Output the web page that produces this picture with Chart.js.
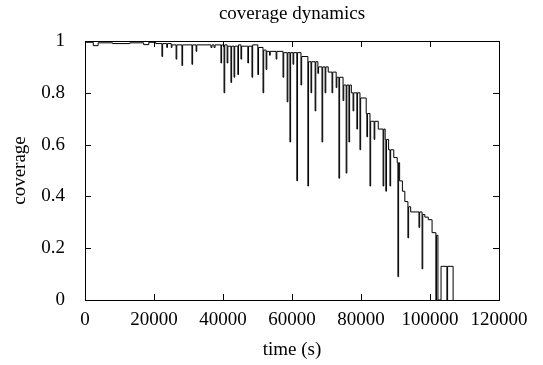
<!DOCTYPE html>
<html>
<head>
<meta charset="utf-8">
<script src="https://cdn.jsdelivr.net/npm/chart.js@4"></script>
<style>
  html, body { margin: 0; padding: 0; background: #fff; }
  #wrap { width: 543px; height: 365px; }
</style>
</head>
<body>
<div id="wrap"><canvas id="cov" width="543" height="365"></canvas></div>
<script>
// time in seconds (x1000), coverage (step line, drops are short outages)
const times = [
    0, 2.4, 3.8, 8.0, 13.0, 17.0, 18.5, 20.5,
    22.3, 22.5, 23.7, 23.9, 25.0, 25.2, 26.4, 26.6, 28.1, 28.3, 31.0, 31.2, 32.2, 32.4,
    36.5, 36.8, 37.4, 37.7, 39.4, 39.6, 40.3, 40.5, 41.2, 41.4, 42.3, 42.5, 43.2, 43.4,
    44.3, 44.5, 45.2, 45.4, 47.2, 47.4, 48.4, 48.6, 50.1, 50.3, 51.6, 51.8, 52.5, 52.7,
    53.5, 53.7, 55.4, 55.6, 57.4, 57.6, 58.6, 58.8, 59.4, 59.6, 60.3, 60.5, 61.4, 61.6,
    62.6, 62.8, 64.6, 64.8, 65.5, 65.7, 66.7, 66.9, 67.5, 67.7, 68.7, 68.9, 69.6, 69.8,
    70.5, 71.6, 71.8, 72.8, 73.0, 73.6, 73.8, 74.8, 75.0, 75.7, 75.9, 76.5, 76.7, 77.2,
    77.7, 77.9, 78.8, 79.0, 79.7, 79.9, 81.5, 81.7, 81.9, 82.6, 82.8, 83.8, 84.0, 85.0,
    86.4, 86.6, 87.0, 87.2, 87.4, 88.0, 88.4, 88.6, 89.5, 90.5, 90.7, 90.9, 91.2, 92.0,
    92.7, 93.6, 93.8, 94.4, 96.8, 97.0, 97.7, 97.9, 98.5, 99.5, 100.6, 101.7, 101.9,
    102.3, 103.2, 104.9, 105.1, 106.7
];
const coverage = [
    0.995, 0.982, 0.993, 0.99, 0.993, 0.986, 0.995, 0.99,
    0.94, 0.99, 0.975, 0.99, 0.975, 0.985, 0.93, 0.985, 0.905, 0.985, 0.91, 0.985, 0.96, 0.985,
    0.975, 0.985, 0.975, 0.985, 0.915, 0.985, 0.80, 0.985, 0.915, 0.98, 0.84, 0.98, 0.86, 0.98,
    0.87, 0.985, 0.93, 0.98, 0.915, 0.98, 0.86, 0.985, 0.87, 0.975, 0.80, 0.965, 0.89, 0.96,
    0.945, 0.96, 0.93, 0.96, 0.86, 0.955, 0.765, 0.955, 0.61, 0.955, 0.91, 0.955, 0.46, 0.955,
    0.83, 0.94, 0.44, 0.92, 0.80, 0.92, 0.73, 0.92, 0.875, 0.90, 0.61, 0.90, 0.80, 0.90,
    0.88, 0.80, 0.88, 0.82, 0.86, 0.47, 0.86, 0.77, 0.83, 0.49, 0.83, 0.61, 0.83, 0.80,
    0.73, 0.80, 0.66, 0.80, 0.58, 0.78, 0.72, 0.63, 0.72, 0.44, 0.69, 0.62, 0.69, 0.66,
    0.44, 0.66, 0.62, 0.42, 0.62, 0.58, 0.44, 0.58, 0.55, 0.53, 0.09, 0.53, 0.46, 0.42,
    0.38, 0.24, 0.36, 0.34, 0.28, 0.34, 0.12, 0.33, 0.32, 0.31, 0.26, 0, 0.25,
    0, 0.13, 0, 0.13, 0
];
const xTicks = [0, 20000, 40000, 60000, 80000, 100000, 120000];
const yTicks = [0, 0.2, 0.4, 0.6, 0.8, 1];
const chartTitle = 'coverage dynamics';

const serif = '"Liberation Serif", "Times New Roman", serif';
const fontSize = 19;

// gnuplot style: closed frame with inward ticks on all four sides, title centred on the plot
const framePlugin = {
    id: 'frame',
    afterDraw(chart) {
        const { ctx, chartArea: a, scales } = chart;
        const tl = 6;
        ctx.save();
        ctx.strokeStyle = '#000';
        ctx.lineWidth = 1;
        ctx.beginPath();
        xTicks.forEach(v => {
            const px = Math.round(scales.x.getPixelForValue(v)) + 0.5;
            ctx.moveTo(px, a.bottom); ctx.lineTo(px, a.bottom - tl);
            ctx.moveTo(px, a.top); ctx.lineTo(px, a.top + tl);
        });
        yTicks.forEach(v => {
            const py = Math.round(scales.y.getPixelForValue(v)) + 0.5;
            ctx.moveTo(a.left, py); ctx.lineTo(a.left + tl, py);
            ctx.moveTo(a.right, py); ctx.lineTo(a.right - tl, py);
        });
        ctx.stroke();
        ctx.strokeRect(Math.round(a.left) + 0.5, Math.round(a.top) + 0.5,
            Math.round(a.right - a.left), Math.round(a.bottom - a.top));

        ctx.fillStyle = '#000';
        ctx.font = fontSize + 'px ' + serif;
        ctx.textAlign = 'center';
        ctx.textBaseline = 'middle';
        ctx.fillText(chartTitle, (a.left + a.right) / 2, 14);
        ctx.restore();
    }
};

new Chart(document.getElementById('cov').getContext('2d'), {
    type: 'line',
    data: {
        datasets: [{
            data: times.map((t, i) => ({ x: t * 1000, y: coverage[i] })),
            stepped: 'before',
            borderColor: '#000',
            borderWidth: 1,
            pointRadius: 0,
            fill: false
        }]
    },
    options: {
        responsive: false,
        animation: false,
        layout: { padding: { left: 0, right: 44, top: 41, bottom: 0 } },
        scales: {
            x: {
                type: 'linear',
                min: 0,
                max: 120000,
                afterBuildTicks: s => { s.ticks = xTicks.map(v => ({ value: v })); },
                afterFit: s => { s.height = 65; },
                grid: { display: false },
                border: { display: false },
                ticks: {
                    color: '#000',
                    padding: 1,
                    maxRotation: 0,
                    font: { family: serif, size: fontSize },
                    callback: v => String(v)
                },
                title: {
                    display: true,
                    text: 'time (s)',
                    color: '#000',
                    padding: { top: 4, bottom: 4 },
                    font: { family: serif, size: fontSize }
                }
            },
            y: {
                min: 0,
                max: 1,
                afterBuildTicks: s => { s.ticks = yTicks.map(v => ({ value: v })); },
                afterFit: s => { s.width = 85; },
                grid: { display: false },
                border: { display: false },
                ticks: {
                    color: '#000',
                    padding: 12,
                    font: { family: serif, size: fontSize },
                    callback: v => String(v)
                },
                title: {
                    display: true,
                    text: 'coverage',
                    color: '#000',
                    padding: { top: 8.5, bottom: 4 },
                    font: { family: serif, size: fontSize }
                }
            }
        },
        plugins: {
            legend: { display: false },
            tooltip: { enabled: false },
            title: { display: false }
        }
    },
    plugins: [framePlugin]
});
</script>
</body>
</html>
